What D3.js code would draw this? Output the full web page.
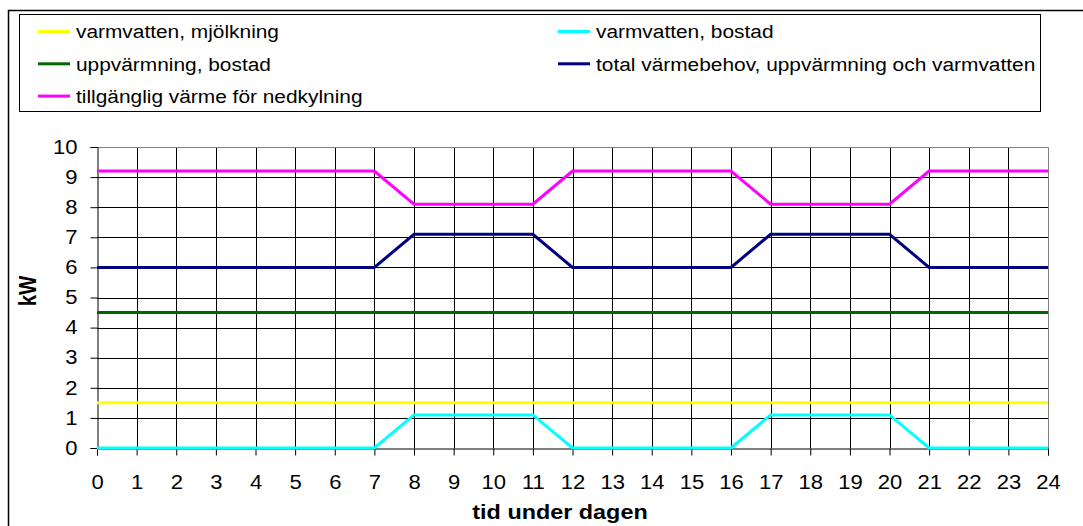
<!DOCTYPE html>
<html>
<head>
<meta charset="utf-8">
<script src="https://cdn.jsdelivr.net/npm/d3@7"></script>
<style>
body { margin:0; background:#fff; }
svg { font-family: "Liberation Sans", Arial, sans-serif; }
</style>
</head>
<body>
<script>
// hours of the day
var hours = d3.range(0, 25);
var hourTicks = d3.range(0, 25);
var kwTicks = d3.range(0, 11);

// series values, one per hour 0..24
var varmvattenMjolk = [1.5,1.5,1.5,1.5,1.5,1.5,1.5,1.5,1.5,1.5,1.5,1.5,1.5,1.5,1.5,1.5,1.5,1.5,1.5,1.5,1.5,1.5,1.5,1.5,1.5];
var varmvattenBostad = [0,0,0,0,0,0,0,0,1.1,1.1,1.1,1.1,0,0,0,0,0,1.1,1.1,1.1,1.1,0,0,0,0];
var uppvarmning = [4.5,4.5,4.5,4.5,4.5,4.5,4.5,4.5,4.5,4.5,4.5,4.5,4.5,4.5,4.5,4.5,4.5,4.5,4.5,4.5,4.5,4.5,4.5,4.5,4.5];
var totalVarme = [6,6,6,6,6,6,6,6,7.1,7.1,7.1,7.1,6,6,6,6,6,7.1,7.1,7.1,7.1,6,6,6,6];
var tillganglig = [9.2,9.2,9.2,9.2,9.2,9.2,9.2,9.2,8.1,8.1,8.1,8.1,9.2,9.2,9.2,9.2,9.2,8.1,8.1,8.1,8.1,9.2,9.2,9.2,9.2];

var seriesNames = ["varmvatten, mjölkning","varmvatten, bostad","uppvärmning, bostad",
  "total värmebehov, uppvärmning och varmvatten","tillgänglig värme för nedkylning"];
var seriesColors = ["#ffff00","#00ffff","#006600","#000080","#ff00ff"];
var seriesValues = [varmvattenMjolk, varmvattenBostad, uppvarmning, totalVarme, tillganglig];

var width = 1083, height = 526;
var margin = {left:97, right:35, top:147, bottom:78};

// the original text is a bit wider than it is tall, stretch it sideways
function stretch(sel, sx) {
  sel.each(function(){
    var t = d3.select(this);
    var x0 = +t.attr("x") || 0;
    t.attr("x", x0 / sx).attr("transform", "scale(" + sx + ",1)");
  });
}

var svg = d3.select("body").append("svg").attr("width", width).attr("height", height);

// outer chart border (runs off the right/bottom edge)
svg.append("rect").attr("x", 8.5).attr("y", 10.5).attr("width", 1090).attr("height", 530)
  .attr("fill", "none").attr("stroke", "#000").attr("stroke-width", 1.5);

var x = d3.scaleLinear().domain([0, 24]).range([margin.left, width - margin.right]);
var y = d3.scaleLinear().domain([0, 10]).range([height - margin.bottom, margin.top]);

// grid
var grid = svg.append("g");
grid.selectAll(".vg").data(hourTicks.slice(1, -1)).enter().append("line")
  .attr("x1", function(d){ return Math.round(x(d)) + 0.5; })
  .attr("x2", function(d){ return Math.round(x(d)) + 0.5; })
  .attr("y1", y(10)).attr("y2", y(0)).attr("stroke", "#000");
grid.selectAll(".hg").data(kwTicks.slice(1, -1)).enter().append("line")
  .attr("y1", function(d){ return Math.round(y(d)) + 0.5; })
  .attr("y2", function(d){ return Math.round(y(d)) + 0.5; })
  .attr("x1", x(0)).attr("x2", x(24)).attr("stroke", "#000");
// top and right border of plot (gray)
svg.append("path")
  .attr("d", "M" + x(0) + "," + (Math.round(y(10)) + 0.5) + "H" + (Math.round(x(24)) + 0.5) + "V" + y(0))
  .attr("fill", "none").attr("stroke", "#808080");

// axes
var yAxis = d3.axisLeft(y).tickValues(kwTicks).tickSize(7).tickPadding(13).tickFormat(d3.format("d"));
var xAxis = d3.axisBottom(x).tickValues(hourTicks).tickSize(7).tickPadding(20).tickFormat(d3.format("d"));

var ya = svg.append("g").attr("transform", "translate(" + (Math.round(x(0)) + 0.5) + ",0)").call(yAxis);
var xa = svg.append("g").attr("transform", "translate(0," + (Math.round(y(0)) + 0.5) + ")").call(xAxis);
[ya, xa].forEach(function(a){
  a.select(".domain").attr("stroke", "#000");
  a.selectAll(".tick line").attr("stroke", "#000");
  a.selectAll("text").attr("font-size", 19.5).attr("fill", "#000").attr("font-family", "Liberation Sans, Arial, sans-serif");
  stretch(a.selectAll("text"), 1.13);
});

// lines
var line = d3.line()
  .x(function(d, i){ return x(hours[i]); })
  .y(function(d){ return y(d); });

seriesValues.forEach(function(vals, i){
  svg.append("path").attr("d", line(vals))
    .attr("fill", "none").attr("stroke", seriesColors[i]).attr("stroke-width", 3);
});

// axis titles
var xt = svg.append("text").attr("x", 560).attr("y", 519).attr("text-anchor", "middle")
  .attr("font-size", 20).attr("font-weight", "bold").text("tid under dagen");
stretch(xt, 1.17);
svg.append("text").attr("transform", "translate(36,291) rotate(-90) scale(1,1.2)").attr("text-anchor", "middle")
  .attr("font-size", 20.5).attr("font-weight", "bold").text("kW");

// legend
svg.append("rect").attr("x", 19.5).attr("y", 14.5).attr("width", 1021).attr("height", 97)
  .attr("fill", "#fff").attr("stroke", "#000");
var legendItems = [
  {name: seriesNames[0], color: seriesColors[0], col: 0, row: 0},
  {name: seriesNames[2], color: seriesColors[2], col: 0, row: 1},
  {name: seriesNames[4], color: seriesColors[4], col: 0, row: 2},
  {name: seriesNames[1], color: seriesColors[1], col: 1, row: 0},
  {name: seriesNames[3], color: seriesColors[3], col: 1, row: 1}
];
var lg = svg.append("g").selectAll("g").data(legendItems).enter().append("g")
  .attr("transform", function(d){ return "translate(" + (d.col ? 558 : 38) + "," + (31.5 + d.row * 32.3) + ")"; });
lg.append("line").attr("x1", 0).attr("x2", 32).attr("stroke", function(d){ return d.color; }).attr("stroke-width", 3);
var lt = lg.append("text").attr("x", 38).attr("dy", "0.38em").attr("font-size", 18).text(function(d){ return d.name; });
stretch(lt, 1.16);
</script>
</body>
</html>
